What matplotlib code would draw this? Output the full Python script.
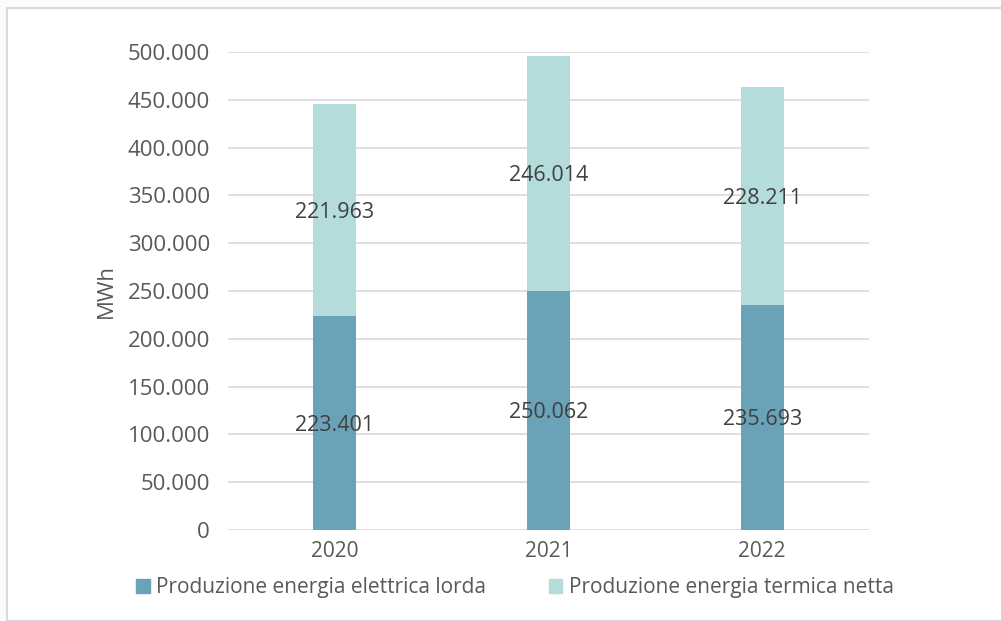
import numpy as np
import matplotlib as mpl
import matplotlib.pyplot as plt
from matplotlib.patches import Rectangle, Patch
from matplotlib.ticker import FuncFormatter

mpl.rcParams.update({'font.family': ['Open Sans', 'DejaVu Sans']})

years = ['2020', '2021', '2022']
elettrica = [223401, 250062, 235693]
termica = [221963, 246014, 228211]
series_names = ['Produzione energia elettrica lorda', 'Produzione energia termica netta']

col_el = '#6aa3b8'
col_te = '#b4dcdb'
txt = '#595959'

fig = plt.figure(figsize=(10.01, 6.21), dpi=100)
fig.patch.set_facecolor('#fdfcfa')
# white chart area with light grey frame
fig.patches.append(Rectangle((7/1001, 0), 1, 1 - 8/621, transform=fig.transFigure,
                             facecolor='white', edgecolor='#d9d9d9', lw=1.5, zorder=-1))

ax = fig.add_axes([228/1001, 1 - 530/621, 641/1001, 478/621])
ax.set_facecolor('none')

x = np.arange(len(years))
w = 0.2
el = np.array(elettrica)
te = np.array(termica)
ax.bar(x, el, w, color=col_el, zorder=2)
ax.bar(x, te, w, bottom=el, color=col_te, zorder=2)

fmt = lambda v: f'{v:,.0f}'.replace(',', '.')
for i in range(len(years)):
    ax.text(x[i], el[i] / 2, fmt(el[i]), ha='center', va='center_baseline', fontsize=15.5, color='#404040', zorder=3)
    ax.text(x[i], el[i] + te[i] / 2, fmt(te[i]), ha='center', va='center_baseline', fontsize=15.5, color='#404040', zorder=3)

ax.set_xlim(-0.5, 2.5)
ax.set_ylim(0, 500000)
ax.set_yticks(np.arange(0, 500001, 50000))
ax.yaxis.set_major_formatter(FuncFormatter(lambda v, p: fmt(v)))
ax.set_xticks(x)
ax.set_xticklabels(years)
ax.grid(axis='y', color='#d9d9d9', lw=1.2, zorder=0)
for s in ax.spines.values():
    s.set_visible(False)
ax.tick_params(length=0, colors=txt)
ax.tick_params(axis='y', labelsize=16, pad=13)
ax.tick_params(axis='x', labelsize=15, pad=8)
ax.set_ylabel('MWh', fontsize=16, color=txt, labelpad=8)

handles = [Patch(color=col_el), Patch(color=col_te)]
fig.legend(handles, series_names, loc='center', bbox_to_anchor=(515/1001, 1 - 588/621), ncol=2,
           frameon=False, fontsize=15, labelcolor=txt, handlelength=0.65, handleheight=0.65,
           handletextpad=0.3, columnspacing=3.0)

fig.savefig('out.png', dpi=100, facecolor=fig.get_facecolor())
